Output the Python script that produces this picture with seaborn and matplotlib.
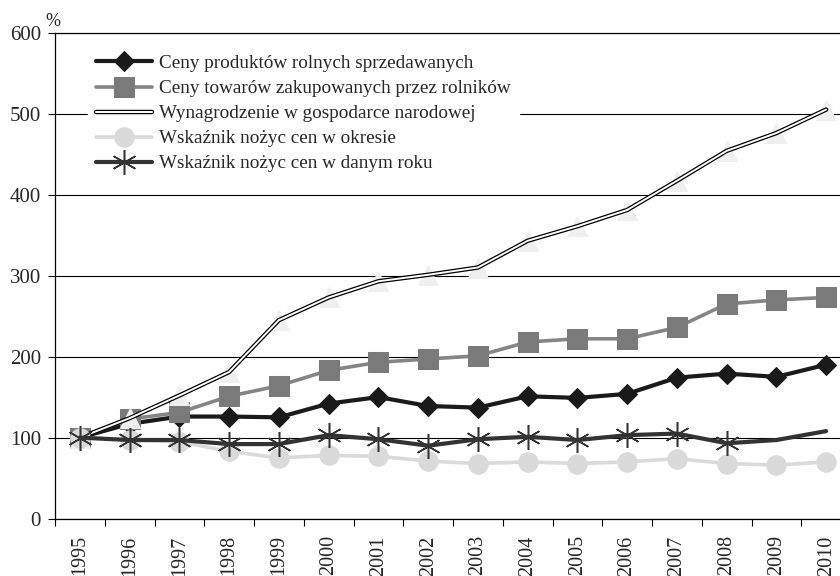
import numpy as np
import pandas as pd
import matplotlib
matplotlib.use("Agg")
import matplotlib.pyplot as plt
import matplotlib.patheffects as pe
from matplotlib.ticker import MultipleLocator, FixedLocator
import seaborn as sns

years = list(range(1995, 2011))
ceny_sprzedawanych = [100, 117, 126, 126, 125, 142, 150, 139, 137, 151, 149, 154, 174, 179, 175, 190]
ceny_zakupowanych = [100, 123, 131, 151, 164, 183, 193, 197, 201, 218, 222, 222, 236, 265, 270, 273]
wynagrodzenie = [100, 124, 152, 181, 245, 273, 293, 301, 310, 343, 361, 381, 417, 454, 476, 505]
nozyce_okres = [100, 97, 95, 83, 75, 78, 77, 71, 68, 70, 68, 70, 74, 68, 66, 70]
nozyce_rok = [100, 97, 97, 92, 92, 103, 98, 90, 98, 101, 97, 103, 105, 93, 97, 108]

labels = ["Ceny produktów rolnych sprzedawanych",
          "Ceny towarów zakupowanych przez rolników",
          "Wynagrodzenie w gospodarce narodowej",
          "Wskaźnik nożyc cen w okresie",
          "Wskaźnik nożyc cen w danym roku"]

sns.set_theme(style="white")
plt.rcParams["font.family"] = ["Liberation Serif", "DejaVu Serif"]
plt.rcParams["font.size"] = 14

fig = plt.figure(figsize=(8.4, 5.76), dpi=100)
ax = fig.add_axes([55 / 840, 57.4 / 576, 796 / 840, 486 / 576])

# black diamonds
sns.lineplot(x=years, y=ceny_sprzedawanych, ax=ax, color="#1a1a1a", lw=3,
             marker="D", ms=10, mec="#1a1a1a", mfc="#1a1a1a", label=labels[0], zorder=3)
# grey squares
sns.lineplot(x=years, y=ceny_zakupowanych, ax=ax, color="#858585", lw=2.6,
             marker="s", ms=15, mec="#7a7a7a", mfc="#7a7a7a", label=labels[1], zorder=4)
# wages: faint triangles + double line
sns.lineplot(x=years, y=wynagrodzenie, ax=ax, color="#efefef", lw=0,
             marker="^", ms=15, mec="#efefef", mfc="#efefef", zorder=4.5)
sns.lineplot(x=years, y=wynagrodzenie, ax=ax, color="white", lw=1.4, label=labels[2], zorder=5,
             path_effects=[pe.Stroke(linewidth=3.2, foreground="black"), pe.Normal()])
# light grey circles
sns.lineplot(x=years, y=nozyce_okres, ax=ax, color="#dadada", lw=2.6,
             marker="o", ms=14, mec="#dadada", mfc="#dadada", label=labels[3], zorder=6)
# dark asterisks
sns.lineplot(x=years, y=nozyce_rok, ax=ax, color="#333333", lw=3,
             marker=(6, 2, 0), ms=18, mew=1.1, mec="#333333", markevery=list(range(14)),
             label=labels[4], zorder=7)

ax.set_xlim(1994.5, 2010.5)
ax.set_ylim(0, 600)
ax.xaxis.set_major_locator(FixedLocator(years))
ax.xaxis.set_minor_locator(FixedLocator([y - 0.5 for y in years] + [2010.5]))
ax.set_xticklabels([str(y) for y in years], rotation=90, fontsize=14.5)
ax.yaxis.set_major_locator(MultipleLocator(100))
ax.tick_params(axis="x", which="major", length=0, pad=12)
ax.tick_params(axis="x", which="minor", bottom=True, length=5, width=0.8, color="black", direction="out")
ax.tick_params(axis="y", left=True, length=5, width=0.8, color="black", direction="out", pad=5, labelsize=15)
ax.grid(axis="y", color="black", lw=0.8)
ax.set_axisbelow(True)
for side in ["left", "bottom", "top"]:
    ax.spines[side].set_color("black")
    ax.spines[side].set_linewidth(0.9)
ax.spines["right"].set_visible(False)
ax.set_xlabel("")
ax.set_ylabel("")

leg = ax.legend(loc="upper left", bbox_to_anchor=(0.03, 0.99), frameon=True, fancybox=False,
                framealpha=1, edgecolor="white", facecolor="white", fontsize=13.8,
                handlelength=2.9, handletextpad=0.4, labelspacing=0.4, borderpad=0.4)

fig.text(53 / 840, 1 - 22 / 576, "%", ha="center", va="center", fontsize=13)

fig.savefig("out.png", dpi=100)
